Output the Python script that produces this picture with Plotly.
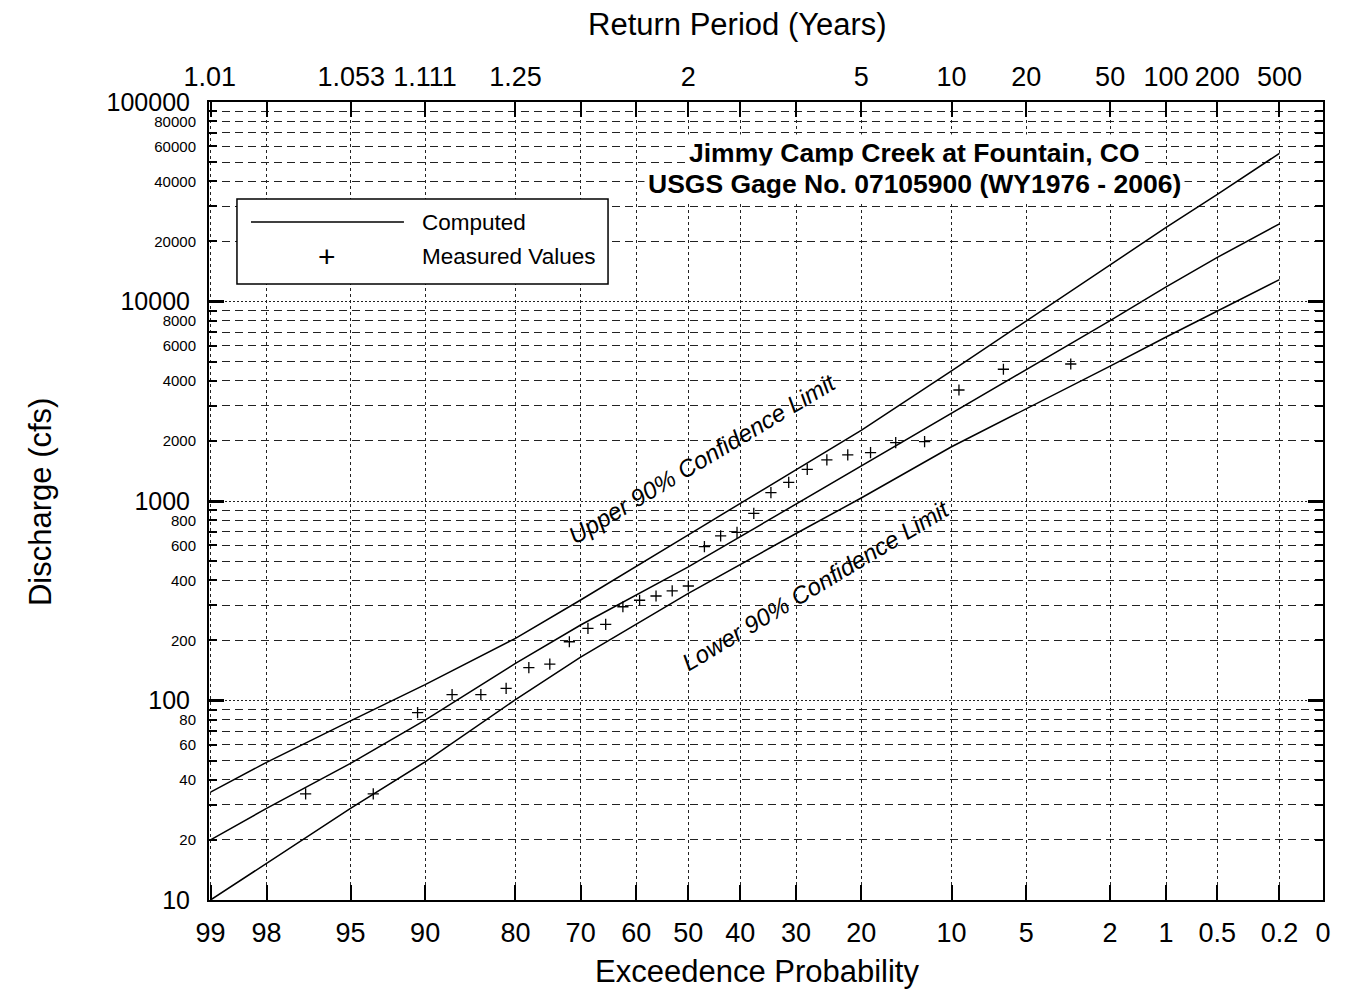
import math
from statistics import NormalDist

import plotly.graph_objects as go

# frequency curves, read at these exceedance probabilities (%)
curve_prob = [99, 98, 95, 90, 80, 70, 50, 30, 20, 10, 5, 2, 1, 0.5, 0.2]
computed = [20.0, 28.8, 48.4, 79.8, 153.5, 239, 467, 966, 1496, 2750, 4520, 8020, 11830, 16640, 24500]
upper_90 = [34.7, 49, 79, 120, 205, 319, 677, 1432, 2260, 4490, 7980, 15170, 23500, 34400, 55300]
lower_90 = [10, 15.3, 28.8, 49.3, 101, 165, 344, 687, 1035, 1870, 2885, 4745, 6640, 8920, 12880]

# measured annual peaks (cfs) and their plotting positions (%)
measured_prob = [3.13, 6.25, 9.38, 12.5, 15.63, 18.75, 21.88, 25.0, 28.13, 31.25, 34.38,
                 37.5, 40.63, 43.75, 46.88, 50.0, 53.13, 56.25, 59.38, 62.5, 65.63, 68.75,
                 71.88, 75.0, 78.13, 81.25, 84.38, 87.5, 90.63, 93.75, 96.88]
measured_q = [4860, 4575, 3600, 1983, 1960, 1746, 1702, 1606, 1441, 1240, 1102,
              867, 697, 668, 590, 375, 354, 334, 318, 295, 241, 230,
              197, 152, 146, 115, 107, 107, 87, 34, 34]

# axis ticks
prob_ticks = [99, 98, 95, 90, 80, 70, 60, 50, 40, 30, 20, 10, 5, 2, 1, 0.5, 0.2, 0.1]
prob_labels = ["99", "98", "95", "90", "80", "70", "60", "50", "40", "30", "20",
               "10", "5", "2", "1", "0.5", "0.2", "0"]
return_periods = [1.01, 1.053, 1.111, 1.25, 2, 5, 10, 20, 50, 100, 200, 500]
return_labels = ["1.01", "1.053", "1.111", "1.25", "2", "5", "10", "20", "50", "100", "200", "500"]
decades = [10, 100, 1000, 10000, 100000]
decade_labels = ["10", "100", "1000", "10000", "100000"]
minor_vals = [k * 10 ** n for n in range(1, 5) for k in range(2, 10)]
minor_labelled = [k * 10 ** n for n in range(1, 5) for k in (2, 4, 6, 8)]

FONT = "Liberation Sans, Arial, sans-serif"
norm = NormalDist()


def zpos(p_pct):
    """Normal-probability position of an exceedance probability in %."""
    return norm.inv_cdf(1 - p_pct / 100.0)


x_range = [zpos(99.02), zpos(0.1)]

fig = go.Figure()
line_style = dict(color="black", width=1.5)
for series in (upper_90, computed, lower_90):
    fig.add_trace(go.Scatter(
        x=[zpos(p) for p in curve_prob], y=series,
        mode="lines", line=line_style, hoverinfo="skip",
    ))
fig.add_trace(go.Scatter(
    x=[zpos(p) for p in measured_prob], y=measured_q,
    mode="markers",
    marker=dict(symbol="cross-thin", size=8, line=dict(color="black", width=1.3)),
))
# carrier trace for the overlaid label axes
fig.add_trace(go.Scatter(
    x=[zpos(measured_prob[0])], y=[measured_q[0]], xaxis="x2", yaxis="y2",
    mode="markers", marker=dict(opacity=0), hoverinfo="skip",
))

tick_font = dict(family=FONT, size=27, color="black")
fig.update_layout(
    # page body adds an 8px offset, so the figure is drawn 8px smaller
    width=1354, height=985,
    margin=dict(l=201, r=39, t=94, b=93),
    paper_bgcolor="white", plot_bgcolor="white",
    showlegend=False,
    font=dict(family=FONT, color="black"),
    xaxis=dict(
        range=x_range, tickmode="array",
        tickvals=[zpos(p) for p in prob_ticks], ticktext=prob_labels,
        ticks="inside", ticklen=15, tickwidth=1.5, tickcolor="black",
        showline=True, linewidth=2, linecolor="black", mirror="ticks",
        showgrid=True, gridcolor="#222", gridwidth=1, griddash="3px,3px",
        zeroline=False, tickfont=tick_font, ticklabelstandoff=8,
    ),
    xaxis2=dict(
        overlaying="x", side="top", anchor="y", range=x_range, tickmode="array",
        tickvals=[zpos(100.0 / t) for t in return_periods], ticktext=return_labels,
        ticks="", showgrid=False, showline=False, zeroline=False,
        tickfont=tick_font, ticklabelstandoff=10,
    ),
    yaxis=dict(
        type="log", range=[1, 5], tickmode="array",
        tickvals=decades, ticktext=decade_labels,
        ticks="inside", ticklen=15, tickwidth=2.5, tickcolor="black",
        showline=True, linewidth=2, linecolor="black", mirror="ticks",
        showgrid=True, gridcolor="#222", gridwidth=1, griddash="2px,2px",
        zeroline=False, tickfont=dict(family=FONT, size=25, color="black"),
        ticklabelstandoff=12,
        minor=dict(
            tickmode="array", tickvals=minor_vals,
            ticks="inside", ticklen=8, tickwidth=1.5, tickcolor="black",
            showgrid=True, gridcolor="#222", gridwidth=1, griddash="8px,5px",
        ),
    ),
    yaxis2=dict(
        overlaying="y", side="left", anchor="x", type="log", range=[1, 5],
        tickmode="array", tickvals=minor_labelled,
        ticktext=[str(v) for v in minor_labelled],
        ticks="", showgrid=False, showline=False, zeroline=False,
        tickfont=dict(family=FONT, size=15, color="black"), ticklabelstandoff=12,
    ),
)


def paper_text(x, y, text, size, **kw):
    fig.add_annotation(xref="paper", yref="paper", x=x, y=y, text=text, showarrow=False,
                       xanchor=kw.pop("xanchor", "center"), yanchor="middle",
                       font=dict(family=FONT, size=size, color="black"), **kw)


# curve labels
fig.add_annotation(
    x=zpos(47.2), y=math.log10(1624), text="<i>Upper 90% Confidence Limit</i>",
    showarrow=False, textangle=-31, font=dict(family=FONT, size=24),
)
fig.add_annotation(
    x=zpos(26.8), y=math.log10(379), text="<i>Lower 90% Confidence Limit</i>",
    showarrow=False, textangle=-31, font=dict(family=FONT, size=24),
)

# gage title box
paper_text(0.633, 0.9361, "<b>Jimmy Camp Creek at Fountain, CO</b>", 26.5,
           bgcolor="white", borderpad=3)
paper_text(0.633, 0.8972, "<b>USGS Gage No. 07105900 (WY1976 - 2006)</b>", 26.5,
           bgcolor="white", borderpad=3)

# legend drawn by hand to get the long line sample
fig.add_shape(type="rect", xref="paper", yref="paper", x0=0.0251, x1=0.3582, y0=0.772, y1=0.8784,
              line=dict(color="black", width=1.5), fillcolor="white", layer="above")
fig.add_shape(type="line", xref="paper", yref="paper", x0=0.0377, x1=0.175, y0=0.8496, y1=0.8496,
              line=dict(color="black", width=1.5), layer="above")
paper_text(0.1059, 0.807, "+", 30)
paper_text(0.1894, 0.8496, "Computed", 22.5, xanchor="left")
paper_text(0.1894, 0.807, "Measured Values", 22.5, xanchor="left")

# axis titles
paper_text(0.474, 1.0977, "Return Period (Years)", 31)
paper_text(0.492, -0.089, "Exceedence Probability", 31)
paper_text(-0.1517, 0.4987, "Discharge (cfs)", 31, textangle=-90)

fig.write_html("out.html")
